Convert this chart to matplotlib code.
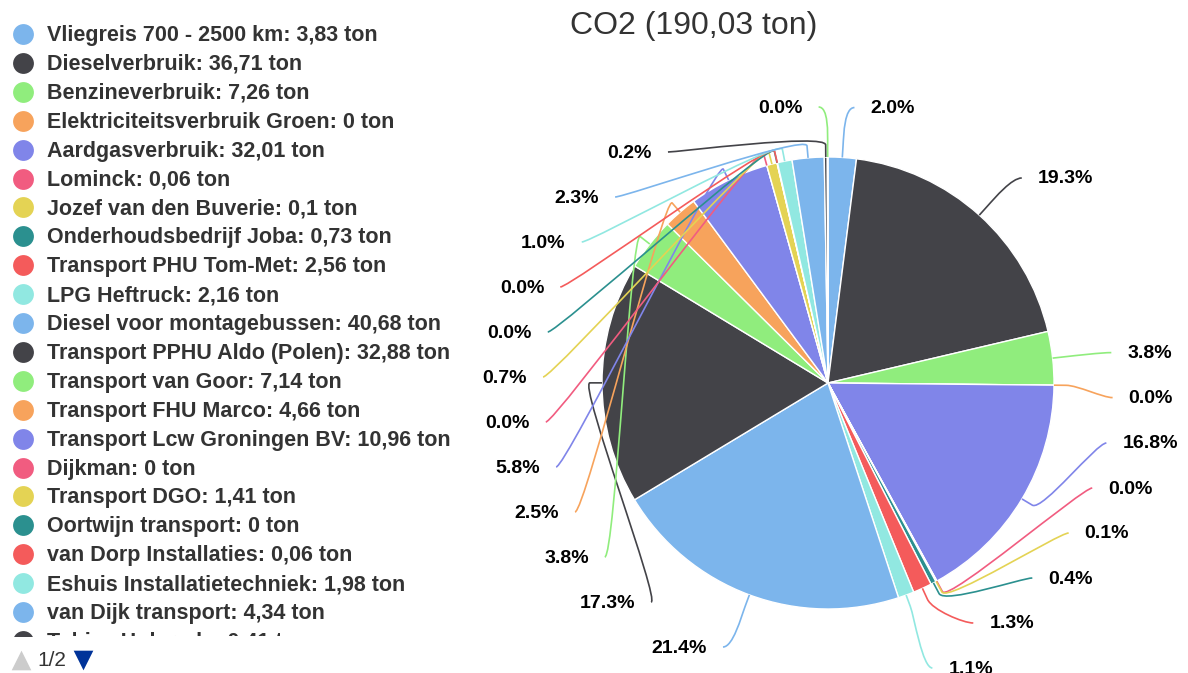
import numpy as np
import matplotlib
matplotlib.use("Agg")
import matplotlib.pyplot as plt
from matplotlib.path import Path
from matplotlib.patches import PathPatch

plt.rcParams['font.family'] = ['Liberation Sans', 'DejaVu Sans']

# slices, in drawing order (clockwise from 12 o'clock)
names = [
    "Vliegreis 700 - 2500 km", "Dieselverbruik", "Benzineverbruik",
    "Elektriciteitsverbruik Groen", "Aardgasverbruik", "Lominck",
    "Jozef van den Buverie", "Onderhoudsbedrijf Joba", "Transport PHU Tom-Met",
    "LPG Heftruck", "Diesel voor montagebussen", "Transport PPHU Aldo (Polen)",
    "Transport van Goor", "Transport FHU Marco", "Transport Lcw Groningen BV",
    "Dijkman", "Transport DGO", "Oortwijn transport", "van Dorp Installaties",
    "Eshuis Installatietechniek", "van Dijk transport", "Tobias Hulsrode",
    "Overig",
]
values = [3.83, 36.71, 7.26, 0, 32.01, 0.06, 0.1, 0.73, 2.56, 2.16, 40.68,
          32.88, 7.14, 4.66, 10.96, 0, 1.41, 0, 0.06, 1.98, 4.34, 0.41, 0.09]
palette = ["#7cb5ec", "#434348", "#90ed7d", "#f7a35c", "#8085e9",
           "#f15c80", "#e4d354", "#2b908f", "#f45b5b", "#91e8e1"]
legend_page = "1/2"

W, H = 1188, 673
cx, cy, r = 828, 383, 226
label_r = 276
gap = 45
bottom = 668

def nl(v):
    return ("%g" % v).replace(".", ",")

colors = [palette[i % len(palette)] for i in range(len(values))]
total = sum(values)

fig = plt.figure(figsize=(W / 100, H / 100), dpi=100)
ax = fig.add_axes([0, 0, 1, 1])
ax.pie(values, colors=colors, startangle=-90, counterclock=True,
       center=(cx, cy), radius=r, frame=True,
       wedgeprops=dict(edgecolor="white", linewidth=1))
ax.set_xlim(0, W)
ax.set_ylim(H, 0)
ax.set_aspect("auto")
ax.axis("off")

ax.text(694, 26, "CO2 (%s ton)" % ("%.2f" % total).replace(".", ","),
        ha="center", va="center", fontsize=23, color="#333333")

# data labels, spread per side like Highcharts does
frac = np.array(values) / total
mids = (np.cumsum(frac) - frac / 2) * 2 * np.pi
labels = []
for i, th in enumerate(mids):
    side = 1 if np.sin(th) >= 0 else -1
    labels.append(dict(i=i, th=th, side=side,
                       nat=cy - label_r * np.cos(th)))

for side in (1, -1):
    grp = [l for l in labels if l["side"] == side]
    grp.sort(key=lambda l: (l["nat"], side * l["i"]))
    prev = -1e9
    for l in grp:
        l["y"] = max(l["nat"], prev + gap)
        prev = l["y"]
    nxt = bottom + gap
    for l in reversed(grp):
        l["y"] = min(l["y"], nxt - gap)
        nxt = l["y"]

for l in labels:
    side, y, th = l["side"], l["y"], l["th"]
    yy = y if abs(y - cy) <= 255 else l["nat"]
    dx = np.sqrt(max(label_r ** 2 - (yy - cy) ** 2, 0))
    lx = cx + side * (dx + 25)
    ax.text(lx, y + 1, "%.1f%%" % (frac[l["i"]] * 100), ha="left" if side > 0 else "right",
            va="center", fontsize=14, fontweight="bold", color="black")
    u = np.array([np.sin(th), -np.cos(th)])
    E = np.array([cx, cy]) + r * u
    B = np.array([cx, cy]) + (r + 12) * u
    A = np.array([lx - side * 16, y])
    C1 = np.array([A[0] - side * 10, A[1]])
    C2 = 2 * B - E
    path = Path([A, C1, C2, B, E],
                [Path.MOVETO, Path.CURVE4, Path.CURVE4, Path.CURVE4, Path.LINETO])
    ax.add_patch(PathPatch(path, fill=False, edgecolor=colors[l["i"]], lw=1.2))

# legend, first page only, clipped at the bottom
lax = fig.add_axes([0, (H - 636) / H, 470 / W, 636 / H])
lax.set_xlim(0, 470)
lax.set_ylim(636, 0)
lax.axis("off")
lax.patch.set_visible(False)
for k, (n, v) in enumerate(zip(names, values)):
    y = 34 + k * 28.9
    lax.scatter([23.5], [y], s=225, color=colors[k], linewidths=0)
    lax.text(47, y + 1.5, "%s: %s ton" % (n, nl(v)), ha="left", va="center",
             fontsize=15.5, fontweight="bold", color="#333333", clip_on=True)

ax.scatter([21], [660], marker="^", s=200, color="#cccccc", linewidths=0)
ax.text(37, 661, legend_page, ha="left", va="center", fontsize=15, color="#333333")
ax.scatter([83], [660], marker="v", s=200, color="#003399", linewidths=0)

fig.savefig("out.png", dpi=100)
